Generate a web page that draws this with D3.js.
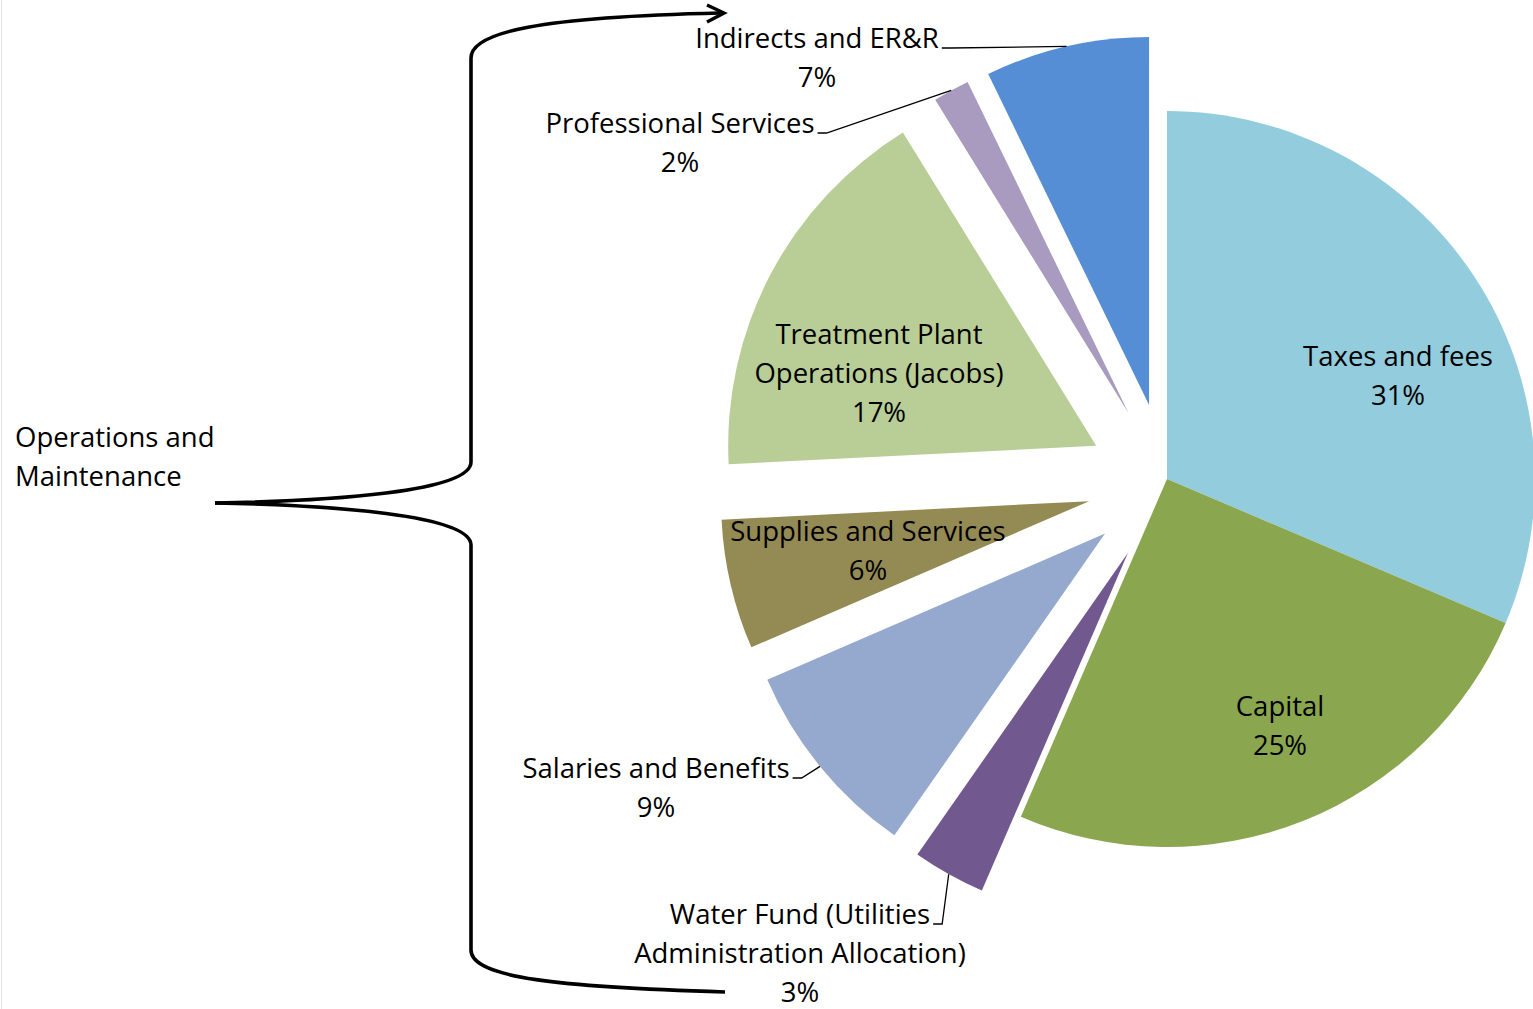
<!DOCTYPE html>
<html>
<head>
<meta charset="utf-8">
<title>Budget breakdown</title>
<script src="https://cdn.jsdelivr.net/npm/d3@7"></script>
<style>
  html, body { margin: 0; padding: 0; background: #ffffff; }
  svg { display: block; }
  text { font-family: "Open Sans", "Noto Sans", sans-serif; fill: #000; }
</style>
</head>
<body>
<svg id="chart" width="1533" height="1009"></svg>
<script>
// ---- Data -------------------------------------------------------------
const categories = [
  "Taxes and fees",
  "Capital",
  "Water Fund (Utilities Administration Allocation)",
  "Salaries and Benefits",
  "Supplies and Services",
  "Treatment Plant Operations (Jacobs)",
  "Professional Services",
  "Indirects and ER&R"
];
// share of the total budget, percent
const shares = [31.4, 25.1, 3.2, 8.8, 5.7, 17.0, 1.6, 7.2];

// how each category name is broken onto lines in its label
const categoryLines = [
  ["Taxes and fees"],
  ["Capital"],
  ["Water Fund (Utilities", "Administration Allocation)"],
  ["Salaries and Benefits"],
  ["Supplies and Services"],
  ["Treatment Plant", "Operations (Jacobs)"],
  ["Professional Services"],
  ["Indirects and ER&R"]
];

// categories grouped under the brace (drawn pulled out of the pie)
const operationsGroup = [
  "Water Fund (Utilities Administration Allocation)",
  "Salaries and Benefits",
  "Supplies and Services",
  "Treatment Plant Operations (Jacobs)",
  "Professional Services",
  "Indirects and ER&R"
];
const groupLabel = ["Operations and", "Maintenance"];

// ---- Styles & layout --------------------------------------------------
const colors = {
  "Taxes and fees": "#93CDDD",
  "Capital": "#8AA64F",
  "Water Fund (Utilities Administration Allocation)": "#71588F",
  "Salaries and Benefits": "#95A9CF",
  "Supplies and Services": "#948A54",
  "Treatment Plant Operations (Jacobs)": "#B9CD96",
  "Professional Services": "#A89BBF",
  "Indirects and ER&R": "#558ED5"
};

const W = 1533, H = 1009;
const cx = 1167, cy = 479, R = 368;
const EXPLODE = 80;      // distance pulled-out slices move along their mid-angle
const EXPLODE_DY = 4;    // the pulled-out group sits slightly lower
const FONT = 27.5, LINE = 39;

// label anchor: [centre x, first baseline y]
const labelPos = {
  "Taxes and fees": [1398, 366],
  "Capital": [1280, 716],
  "Water Fund (Utilities Administration Allocation)": [800, 924],
  "Salaries and Benefits": [656, 778],
  "Supplies and Services": [868, 541],
  "Treatment Plant Operations (Jacobs)": [879, 344],
  "Professional Services": [680, 133],
  "Indirects and ER&R": [817, 48]
};
// labels outside their slice get a leader line
const leaderLabels = new Set([
  "Water Fund (Utilities Administration Allocation)",
  "Salaries and Benefits",
  "Professional Services",
  "Indirects and ER&R"
]);

// ---- Drawing ----------------------------------------------------------
const svg = d3.select("#chart");
svg.append("rect").attr("width", W).attr("height", H).attr("fill", "#fff");
svg.append("line")
  .attr("x1", 1.5).attr("x2", 1.5).attr("y1", 0).attr("y2", H)
  .attr("stroke", "#e3e3e3").attr("stroke-width", 1);

const data = categories.map((name, i) => ({ name, value: shares[i], lines: categoryLines[i] }));
const total = d3.sum(shares);

const pie = d3.pie().sort(null).value(d => d.value).startAngle(0).endAngle(2 * Math.PI);
const arcs = pie(data);
const arc = d3.arc().innerRadius(0).outerRadius(R);

function explodeOffset(d) {
  if (!operationsGroup.includes(d.data.name)) return [0, 0];
  const m = (d.startAngle + d.endAngle) / 2;
  return [EXPLODE * Math.sin(m), -EXPLODE * Math.cos(m) + EXPLODE_DY];
}

const pieG = svg.append("g").attr("transform", `translate(${cx},${cy})`);
pieG.selectAll("path.slice")
  .data(arcs)
  .join("path")
  .attr("class", "slice")
  .attr("transform", d => `translate(${explodeOffset(d).join(",")})`)
  .attr("d", arc)
  .attr("fill", d => colors[d.data.name]);

// slice labels (category + rounded percentage)
const labelG = svg.append("g");
arcs.forEach(d => {
  const [x, y] = labelPos[d.data.name];
  const pct = Math.round(d.data.value / total * 100) + "%";
  const lines = d.data.lines.concat([pct]);
  const t = labelG.append("text")
    .attr("text-anchor", "middle")
    .attr("font-size", FONT);
  lines.forEach((s, i) => {
    t.append("tspan").attr("x", x).attr("y", y + i * LINE).text(s);
  });

  if (leaderLabels.has(d.data.name)) {
    const first = t.select("tspan").node();
    const w = first.getComputedTextLength();
    const sx = x + w / 2 + 3, sy = y;
    const o = explodeOffset(d);
    const m = (d.startAngle + d.endAngle) / 2;
    const ex = cx + o[0] + R * Math.sin(m);
    const ey = cy + o[1] - R * Math.cos(m);
    const p = d3.path();
    p.moveTo(sx, sy);
    p.lineTo(sx + 9, sy);
    p.lineTo(ex, ey);
    labelG.append("path")
      .attr("d", p.toString())
      .attr("fill", "none")
      .attr("stroke", "#000")
      .attr("stroke-width", 1.3);
  }
});

// brace marking the operations & maintenance group
const brace = svg.append("g")
  .attr("fill", "none")
  .attr("stroke", "#000")
  .attr("stroke-width", 3.6)
  .attr("stroke-linecap", "butt");

brace.append("path")
  .attr("d", "M215,503 C330,501 471,492 471,462 L471,58 C471,32 540,17 720,13");
brace.append("path")
  .attr("d", "M215,503 C330,505 471,515 471,545 L471,950 C471,978 560,987 725,992");
brace.append("path")
  .attr("d", "M707,5 L724,13 L707,22")
  .attr("stroke-width", 3.4)
  .attr("stroke-linejoin", "miter");

const groupText = svg.append("text")
  .attr("font-size", FONT)
  .attr("text-anchor", "start");
groupLabel.forEach((s, i) => {
  groupText.append("tspan").attr("x", 15).attr("y", 447 + i * LINE).text(s);
});
</script>
</body>
</html>
